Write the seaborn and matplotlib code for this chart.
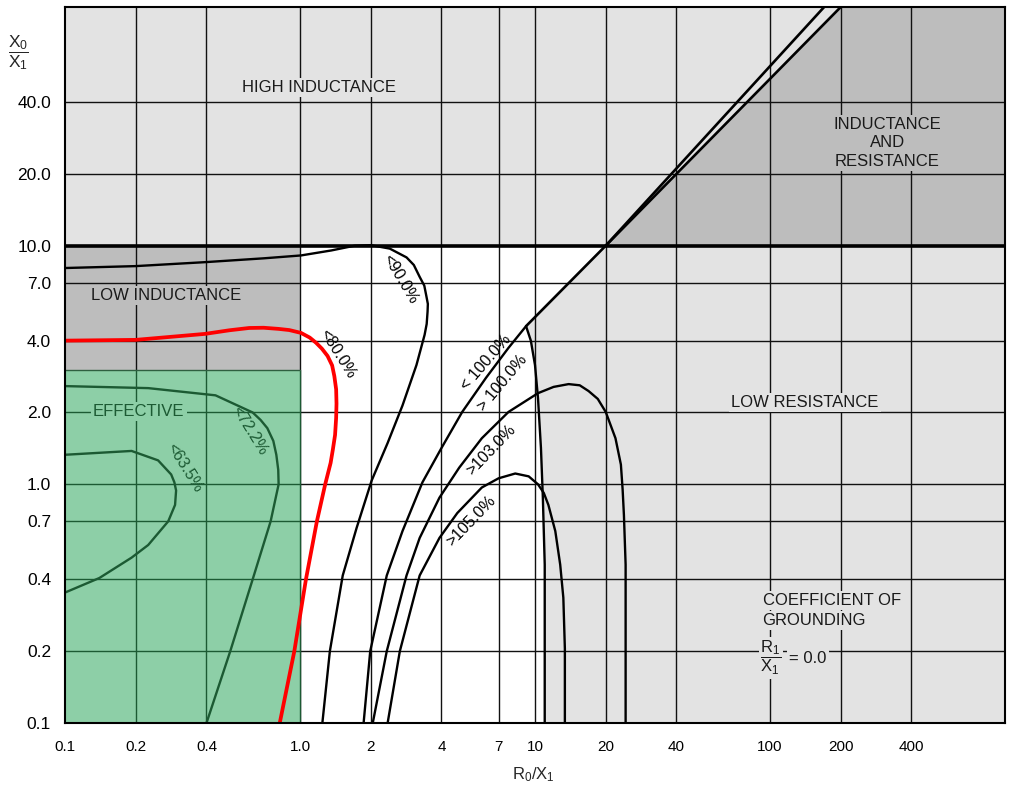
import matplotlib
matplotlib.use("Agg")
import matplotlib.pyplot as plt
import matplotlib.ticker as mticker
import seaborn as sns

# ---------------- data ----------------
x_ticks = [0.1, 0.2, 0.4, 1, 2, 4, 7, 10, 20, 40, 100, 200, 400]
x_tick_labels = ["0.1", "0.2", "0.4", "1.0", "2", "4", "7", "10", "20", "40", "100", "200", "400"]
y_ticks = [0.1, 0.2, 0.4, 0.7, 1, 2, 4, 7, 10, 20, 40]
y_tick_labels = ["0.1", "0.2", "0.4", "0.7", "1.0", "2.0", "4.0", "7.0", "10.0", "20.0", "40.0"]
x_grid = [0.2, 0.4, 1, 2, 4, 7, 10, 20, 40, 100, 200, 400]
y_grid = [0.2, 0.4, 0.7, 1, 2, 4, 7, 20, 40]
y_inductance_limit = 10.0

# regions
effective_x = [0.1, 1.0]
effective_y = [0.1, 3.0]
low_ind_x = [0.1, 1.0]
low_ind_y = [3.0, 10.0]
ind_res_x = [20, 200, 1000, 1000]
ind_res_y = [10, 100, 100, 10]

# diagonal boundaries
diag_lower_x = [9.16, 20]
diag_lower_y = [4.6, 10]
diag_a_x = [20, 170]
diag_a_y = [10, 100]
diag_b_x = [20, 200]
diag_b_y = [10, 100]

# left edge of low-resistance region
bound_x = [9.16, 9.6, 10.0, 10.3, 10.6, 10.8, 11.0, 11.0]
bound_y = [4.60, 4.0, 3.16, 2.29, 1.42, 0.879, 0.461, 0.1]

# coefficient-of-grounding contours
c90_x = [0.1, 0.2, 0.395, 0.70, 1.01, 1.36, 1.71, 2.0, 2.41, 2.84, 3.05, 3.23, 3.38, 3.45, 3.5, 3.49, 3.46, 3.39, 3.13, 2.73, 2.36, 2.02, 1.74, 1.52, 1.34, 1.245]
c90_y = [8.06, 8.21, 8.53, 8.85, 9.1, 9.55, 10.0, 10.05, 9.72, 8.93, 8.3, 7.4, 6.8, 6.14, 5.7, 5.29, 4.7, 4.23, 3.16, 2.14, 1.49, 1.04, 0.655, 0.415, 0.2, 0.1]

c80_x = [0.1, 0.2, 0.395, 0.5, 0.608, 0.7, 0.811, 0.9, 1.01, 1.1, 1.17, 1.24, 1.31, 1.37, 1.40, 1.425, 1.43, 1.425, 1.41, 1.38, 1.35, 1.28, 1.18, 1.06, 0.946, 0.82]
c80_y = [4.0, 4.03, 4.27, 4.42, 4.52, 4.53, 4.48, 4.43, 4.31, 4.12, 3.92, 3.7, 3.45, 3.15, 2.84, 2.5, 2.18, 1.9, 1.61, 1.4, 1.23, 1.0, 0.7, 0.4, 0.2, 0.1]

c72_x = [0.1, 0.226, 0.437, 0.629, 0.68, 0.726, 0.77, 0.793, 0.808, 0.811, 0.750, 0.629, 0.505, 0.4]
c72_y = [2.58, 2.53, 2.36, 2.0, 1.86, 1.72, 1.52, 1.33, 1.15, 1.0, 0.7, 0.4, 0.2, 0.1]

c63_x = [0.1, 0.192, 0.249, 0.283, 0.292, 0.297, 0.294, 0.275, 0.226, 0.192, 0.14, 0.1]
c63_y = [1.33, 1.38, 1.26, 1.10, 1.02, 0.942, 0.82, 0.7, 0.557, 0.493, 0.405, 0.352]

c100_x = [9.16, 7.71, 6.18, 4.90, 4.0, 3.32, 2.73, 2.34, 1.99, 1.865]
c100_y = [4.60, 3.73, 2.79, 2.01, 1.42, 1.02, 0.637, 0.415, 0.2, 0.1]

c103_x = [2.04, 2.34, 2.84, 3.23, 3.92, 4.76, 5.94, 7.71, 10.3, 12.0, 13.9, 15.5, 16.9, 18.5, 20.0, 22.0, 23.2, 23.6, 23.9, 24.3, 24.3, 24.3]
c103_y = [0.1, 0.2, 0.415, 0.596, 0.879, 1.175, 1.56, 2.01, 2.41, 2.56, 2.63, 2.6, 2.46, 2.28, 2.01, 1.56, 1.21, 0.95, 0.743, 0.461, 0.243, 0.1]

c105_x = [2.36, 2.66, 3.23, 3.92, 4.67, 5.94, 7.0, 8.24, 9.4, 10.3, 10.9, 11.4, 12.2, 12.8, 13.2, 13.4, 13.4]
c105_y = [0.1, 0.2, 0.415, 0.596, 0.758, 0.97, 1.06, 1.11, 1.08, 1.0, 0.92, 0.82, 0.637, 0.461, 0.335, 0.205, 0.1]

contour_label_text = ["<90.0%", "<80.0%", "< 100.0%", "> 100.0%", ">103.0%", ">105.0%", "<72.2%", "<63.5%"]
contour_label_x = [2.68, 1.45, 6.18, 7.27, 6.48, 5.35, 0.608, 0.324]
contour_label_y = [7.26, 3.52, 3.26, 2.65, 1.39, 0.70, 1.67, 1.17]
contour_label_rot = [-59, -58, 49, 50, 46, 46, -58, -58]

# ---------------- style ----------------
LIGHT = "#e3e3e3"
DARK = "#bdbdbd"
GREEN = "#8dcfa7"
DGREEN = "#1c5a33"
RED = "#ff0000"
INK = "#111111"

sns.set_theme(style="white")
plt.rcParams['font.family'] = ['Liberation Sans', 'DejaVu Sans']
plt.rcParams['mathtext.fontset'] = 'custom'
plt.rcParams['mathtext.rm'] = 'Liberation Sans'
plt.rcParams['mathtext.it'] = 'Liberation Sans:italic'
plt.rcParams['mathtext.bf'] = 'Liberation Sans:bold'

W, H = 1011, 793
fig = plt.figure(figsize=(W / 100, H / 100), dpi=100)
fig.patch.set_facecolor("white")
ax = fig.add_axes([65 / W, 1 - 723 / H, 940 / W, 716 / H])
ax.set_xscale("log")
ax.set_yscale("log")
ax.set_xlim(0.1, 1000)
ax.set_ylim(0.1, 100)
ax.set_facecolor(LIGHT)

# region fills
white_x = [1.0, 1.0, 20.0] + bound_x
white_y = [0.1, 10.0, 10.0] + bound_y
ax.fill(white_x, white_y, color="white", lw=0, zorder=1)
ax.fill(ind_res_x, ind_res_y, color=DARK, lw=0, zorder=1)
ax.fill_between(low_ind_x, low_ind_y[0], low_ind_y[1], color=DARK, lw=0, zorder=1)

# grid
for gx in x_grid:
    ax.axvline(gx, color=INK, lw=1.0, zorder=2)
for gy in y_grid:
    ax.axhline(gy, color=INK, lw=1.0, zorder=2)

# effective (green) region with its own dark green grid
ax.fill_between(effective_x, effective_y[0], effective_y[1], color=GREEN, lw=0, zorder=2.5)
for gx in x_grid:
    if effective_x[0] < gx <= effective_x[1]:
        ax.plot([gx, gx], effective_y, color=DGREEN, lw=1.0, zorder=2.6)
for gy in y_grid:
    if effective_y[0] < gy < effective_y[1]:
        ax.plot(effective_x, [gy, gy], color=DGREEN, lw=1.0, zorder=2.6)
ax.plot(effective_x, [effective_y[1], effective_y[1]], color="#2f5f40", lw=1.0, zorder=2.6)

line_kw = dict(sort=False, estimator=None, ax=ax, solid_joinstyle="round", solid_capstyle="round")

# thick 10.0 line and diagonals
ax.axhline(y_inductance_limit, color="black", lw=2.6, zorder=3.5)
for dx, dy in [(diag_lower_x, diag_lower_y), (diag_a_x, diag_a_y), (diag_b_x, diag_b_y)]:
    sns.lineplot(x=dx, y=dy, color="black", lw=1.9, zorder=3.5, **line_kw)
sns.lineplot(x=bound_x, y=bound_y, color="black", lw=1.7, zorder=3.5, **line_kw)

# contours
for cx, cy in [(c90_x, c90_y), (c100_x, c100_y), (c103_x, c103_y), (c105_x, c105_y)]:
    sns.lineplot(x=cx, y=cy, color="black", lw=1.7, zorder=4, **line_kw)
for cx, cy in [(c72_x, c72_y), (c63_x, c63_y)]:
    sns.lineplot(x=cx, y=cy, color=DGREEN, lw=1.7, zorder=4, **line_kw)
sns.lineplot(x=c80_x, y=c80_y, color=RED, lw=2.7, zorder=4.5, **line_kw)

# contour labels
for t, lx, ly, r in zip(contour_label_text, contour_label_x, contour_label_y, contour_label_rot):
    col = DGREEN if t in ("<72.2%", "<63.5%") else "black"
    ax.text(lx, ly, t, rotation=r, rotation_mode="anchor", ha="center", va="center",
            fontsize=11.5, color=col, zorder=6)

# region labels
def region_text(x, y, s, bg, color="#1a1a1a", **kw):
    ax.text(x, y, s, ha="center", va="center", fontsize=12, color=color, zorder=6,
            bbox=dict(boxstyle="square,pad=0.12", fc=bg, ec="none"), **kw)

region_text(1.2, 46, "HIGH INDUCTANCE", LIGHT)
region_text(316, 27, "INDUCTANCE\nAND\nRESISTANCE", DARK, linespacing=1.3)
region_text(0.27, 6.2, "LOW INDUCTANCE", DARK)
region_text(0.206, 2.02, "EFFECTIVE", GREEN, color=DGREEN)
region_text(141, 2.2, "LOW RESISTANCE", LIGHT)
ax.text(93, 0.326, "COEFFICIENT OF", ha="left", va="center", fontsize=12, color="#1a1a1a", zorder=6,
        bbox=dict(boxstyle="square,pad=0.12", fc=LIGHT, ec="none"))
ax.text(93, 0.27, "GROUNDING", ha="left", va="center", fontsize=12, color="#1a1a1a", zorder=6,
        bbox=dict(boxstyle="square,pad=0.12", fc=LIGHT, ec="none"))
ax.text(101, 0.187, r"$\dfrac{\mathrm{R_1}}{\mathrm{X_1}}$", ha="center", va="center", fontsize=12,
        color="#1a1a1a", zorder=6, bbox=dict(boxstyle="square,pad=0.1", fc=LIGHT, ec="none"))
ax.text(121, 0.187, "= 0.0", ha="left", va="center", fontsize=12, color="#1a1a1a", zorder=6,
        bbox=dict(boxstyle="square,pad=0.12", fc=LIGHT, ec="none"))

# axes / ticks
ax.xaxis.set_minor_locator(mticker.NullLocator())
ax.yaxis.set_minor_locator(mticker.NullLocator())
ax.set_xticks(x_ticks)
ax.set_xticklabels(x_tick_labels)
ax.set_yticks(y_ticks)
ax.set_yticklabels(y_tick_labels)
ax.tick_params(axis="both", length=0, colors="black")
ax.tick_params(axis="x", pad=12, labelsize=11)
ax.tick_params(axis="y", pad=10, labelsize=12.5)
ax.set_xlabel("")
ax.set_ylabel("")
ax.grid(False)
for sp in ax.spines.values():
    sp.set_color("black")
    sp.set_linewidth(1.5)
    sp.set_zorder(7)

fig.text(533 / W, 1 - 775 / H, r"$\mathrm{R_0/X_1}$", ha="center", va="center", fontsize=12)
fig.text(18 / W, 1 - 53 / H, r"$\dfrac{\mathrm{X_0}}{\mathrm{X_1}}$", ha="center", va="center", fontsize=12.5)

fig.savefig("out.png", dpi=100)
